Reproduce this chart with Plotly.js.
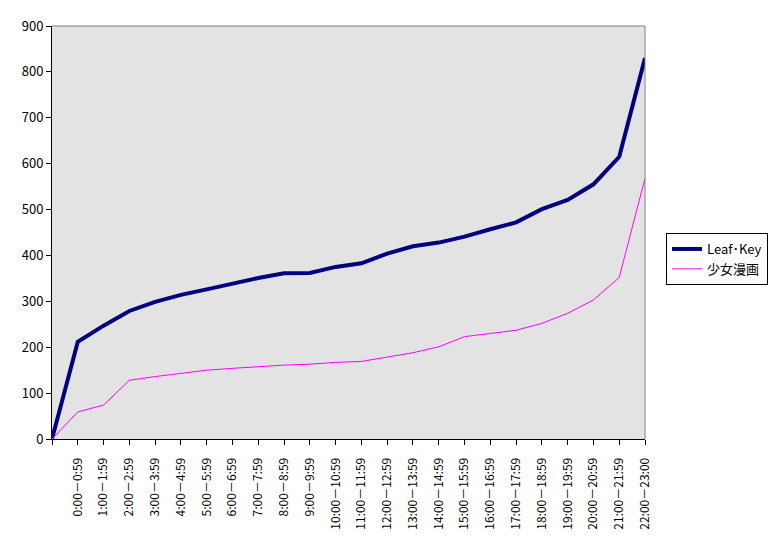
<!DOCTYPE html>
<html>
<head>
<meta charset="utf-8">
<script src="https://cdn.plot.ly/plotly-3.0.1.min.js"></script>
<style>html,body{margin:0;padding:0;background:#fff;}#chart{width:772px;height:543px;}</style>
</head>
<body>
<div id="chart"></div>
<script>
const categories = ["", "0:00－0:59", "1:00－1:59", "2:00－2:59", "3:00－3:59", "4:00－4:59", "5:00－5:59",
  "6:00－6:59", "7:00－7:59", "8:00－8:59", "9:00－9:59", "10:00－10:59", "11:00－11:59",
  "12:00－12:59", "13:00－13:59", "14:00－14:59", "15:00－15:59", "16:00－16:59", "17:00－17:59",
  "18:00－18:59", "19:00－19:59", "20:00－20:59", "21:00－21:59", "22:00－23:00"];
const leafKey = [0, 212, 247, 279, 299, 314, 326, 339, 351, 361, 362, 375, 383, 404, 420, 428, 441, 457, 472, 501, 521, 555, 615, 830];
const shoujo = [0, 59, 74, 128, 136, 143, 150, 154, 158, 161, 163, 167, 169, 178, 188, 201, 223, 230, 237, 252, 274, 303, 352, 568];
const yTicks = [0, 100, 200, 300, 400, 500, 600, 700, 800, 900];

const xIdx = categories.map((c, i) => i);
const font = "'Noto Sans CJK JP', 'Liberation Sans', sans-serif";

const traces = [
  {x: xIdx, y: leafKey, name: "Leaf･Key", type: "scatter", mode: "lines",
   line: {color: "#000080", width: 4}},
  {x: xIdx, y: shoujo, name: "少女漫画", type: "scatter", mode: "lines",
   line: {color: "#FF00FF", width: 1}}
];

const layout = {
  width: 772, height: 543,
  margin: {l: 52, r: 127, t: 26, b: 104, pad: 0, autoexpand: false},
  paper_bgcolor: "#ffffff",
  plot_bgcolor: "#E3E3E3",
  font: {family: font, size: 13, color: "#000"},
  showlegend: true,
  legend: {xref: "container", yref: "container", x: 666 / 772, y: 1 - 259 / 543,
    xanchor: "left", yanchor: "middle",
    bordercolor: "#000", borderwidth: 1, bgcolor: "#fff",
    font: {family: font, size: 13, color: "#000"}, itemwidth: 30, tracegroupgap: 0},
  xaxis: {
    range: [0, categories.length - 1], tickmode: "array", tickvals: xIdx, ticktext: categories,
    tickangle: -90, ticks: "outside", ticklen: 5, tickcolor: "#000", tickwidth: 1,
    ticklabelstandoff: 8,
    showgrid: false, zeroline: false, showline: true, linecolor: "#000", linewidth: 1,
    mirror: false, fixedrange: true, tickfont: {family: font, size: 12, color: "#000"}
  },
  yaxis: {
    range: [0, 900], tickmode: "array", tickvals: yTicks, ticktext: yTicks.map(String),
    ticks: "outside", ticklen: 5, tickcolor: "#000", tickwidth: 1,
    showgrid: false, zeroline: false, showline: true, linecolor: "#000", linewidth: 1,
    fixedrange: true, tickfont: {family: font, size: 13, color: "#000"}
  },
  shapes: [
    {type: "line", xref: "paper", yref: "paper", x0: 0, x1: 1, y0: 1, y1: 1, line: {color: "#808080", width: 1}},
    {type: "line", xref: "paper", yref: "paper", x0: 1, x1: 1, y0: 0, y1: 1, line: {color: "#808080", width: 1}}
  ]
};

Plotly.newPlot("chart", traces, layout, {staticPlot: true, displayModeBar: false});
</script>
</body>
</html>
